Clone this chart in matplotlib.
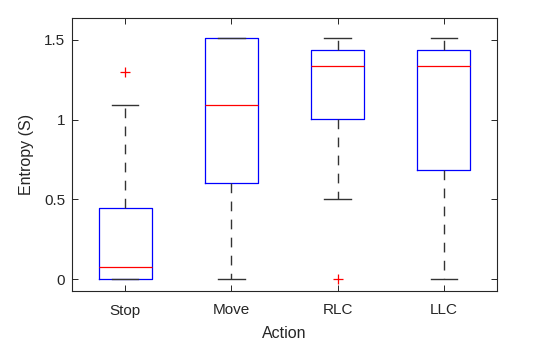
import matplotlib
matplotlib.use("Agg")
import matplotlib.pyplot as plt

plt.rcParams['font.family'] = ['Liberation Sans', 'DejaVu Sans']

# Box statistics
actions = ['Stop', 'Move', 'RLC', 'LLC']
whislo = [0.0, 0.0, 0.50, 0.0]
q1 = [0.0, 0.60, 1.004, 0.684]
med = [0.075, 1.09, 1.335, 1.335]
q3 = [0.448, 1.51, 1.436, 1.436]
whishi = [1.09, 1.51, 1.515, 1.515]
fliers = [[1.30], [], [0.0], []]

stats = []
for i, name in enumerate(actions):
    stats.append(dict(label=name, whislo=whislo[i], q1=q1[i], med=med[i],
                      q3=q3[i], whishi=whishi[i], fliers=fliers[i]))

fig = plt.figure(figsize=(5.5, 3.45), dpi=100)
ax = fig.add_axes([72 / 550, 1 - 291 / 345, 425 / 550, 273 / 345])

ax.bxp(stats, positions=range(1, 5), widths=0.5, capwidths=0.25,
       showfliers=True,
       boxprops=dict(color='#0000ff', linewidth=0.9),
       medianprops=dict(color='#ff0000', linewidth=0.9),
       whiskerprops=dict(color='#333333', linewidth=1.0,
                         linestyle=(0, (7, 6))),
       capprops=dict(color='#333333', linewidth=1.0),
       flierprops=dict(marker='+', markeredgecolor='#ff0000',
                       markersize=7, markeredgewidth=0.9))

ax.set_xlim(0.5, 4.5)
ax.set_ylim(-0.075, 1.638)
ax.set_yticks([0, 0.5, 1, 1.5])
ax.set_yticklabels(['0', '0.5', '1', '1.5'])
ax.set_xticks(range(1, 5))
ax.set_xticklabels(actions)

ax.tick_params(direction='in', top=True, right=True, length=4,
               width=0.7, colors='#262626', labelsize=11)
ax.tick_params(axis='x', pad=9)
ax.tick_params(axis='y', pad=5)
for s in ax.spines.values():
    s.set_linewidth(0.8)
    s.set_color('#262626')

ax.set_xlabel('Action', fontsize=11.5, color='#262626', labelpad=6)
ax.set_ylabel('Entropy (S)', fontsize=11.5, color='#262626', labelpad=7)

fig.savefig('out.png', dpi=100)
